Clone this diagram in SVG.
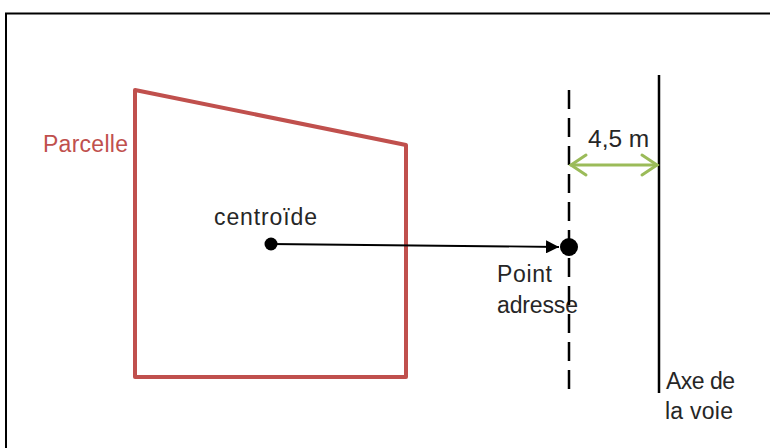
<svg xmlns="http://www.w3.org/2000/svg" width="770" height="448" viewBox="0 0 770 448">
<defs>
<style>
.t{font-family:"Liberation Sans",Arial,sans-serif;font-size:23px;fill:#262626}
.green{stroke:#9bbb59;stroke-width:3;fill:none;stroke-linecap:round}
</style>
<marker id="tri" viewBox="0 0 10 10" refX="10" refY="5" markerWidth="13" markerHeight="13" markerUnits="userSpaceOnUse" orient="auto">
<path d="M0,0 L10,5 L0,10 z" fill="#000"/>
</marker>
</defs>
<rect x="0" y="0" width="770" height="448" fill="#fff"/>
<rect id="frame" x="6" y="13.5" width="800" height="500" fill="none" stroke="#000" stroke-width="2"/>
<g id="parcelle">
<polygon points="135,90 406,145 406,377 135,377" fill="none" stroke="#c0504d" stroke-width="4" stroke-linejoin="round"/>
<text class="t" x="43" y="152" textLength="85" style="fill:#c0504d">Parcelle</text>
</g>
<g id="centroide">
<circle cx="271" cy="244" r="6.5" fill="#000"/>
<text class="t" x="214" y="225" textLength="103">centroïde</text>
</g>
<g id="point-adresse">
<circle cx="569" cy="247" r="9" fill="#000"/>
<text class="t" x="497" y="282" textLength="55">Point</text>
<text class="t" x="497" y="313" textLength="81">adresse</text>
</g>
<g id="limite">
<line x1="569" y1="90" x2="569" y2="392" stroke="#000" stroke-width="2.5" stroke-dasharray="19,9"/>
</g>
<g id="axe">
<line x1="659" y1="75" x2="659" y2="393" stroke="#000" stroke-width="2.5"/>
<text class="t" x="666" y="389" textLength="69">Axe de</text>
<text class="t" x="665" y="419" textLength="68">la voie</text>
</g>
<g id="connectors">
<line x1="271" y1="244" x2="559" y2="247" stroke="#000" stroke-width="1.8" marker-end="url(#tri)"/>
<line class="green" x1="571" y1="165" x2="657" y2="165"/>
<polyline class="green" points="586,155 571,165 586,175"/>
<polyline class="green" points="642,155 657,165 642,175"/>
<text class="t" x="588" y="147" style="font-size:24.5px">4,5 m</text>
</g>
</svg>
